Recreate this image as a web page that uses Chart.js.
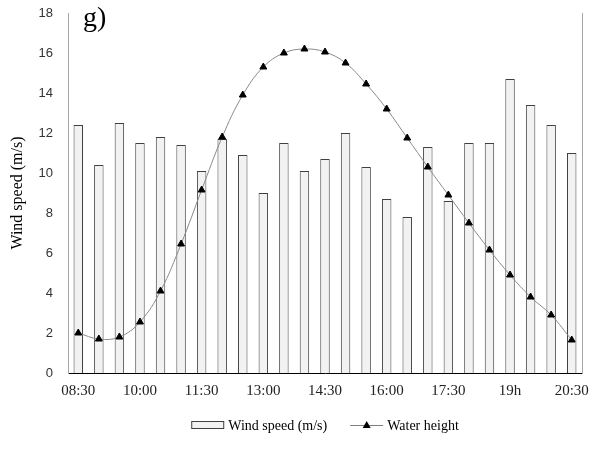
<!DOCTYPE html>
<html>
<head>
<meta charset="utf-8">
<style>
  html, body { margin: 0; padding: 0; background: #fff; }
  #wrap { width: 596px; height: 450px; }
</style>
<script src="https://cdn.jsdelivr.net/npm/chart.js@4"></script>
</head>
<body>
<div id="wrap"><canvas id="chart" width="596" height="450"></canvas></div>
<script>
// half-hour time steps, 08:30 -> 20:30
const timeLabels = [
    "08:30", "09:00", "09:30", "10:00", "10:30", "11:00", "11:30", "12:00", "12:30",
    "13:00", "13:30", "14:00", "14:30", "15:00", "15:30", "16:00", "16:30", "17:00",
    "17:30", "18:00", "18:30", "19h", "19:30", "20:00", "20:30",
];

const windSpeed = [
    12.4, 10.4, 12.5, 11.5, 11.8, 11.4, 10.1, 11.7, 10.9, 9.0, 11.5, 10.1, 10.7,
    12.0, 10.3, 8.7, 7.8, 11.3, 8.6, 11.5, 11.5, 14.7, 13.4, 12.4, 11.0,
];

const waterHeight = [
    2.0, 1.7, 1.8, 2.55, 4.1, 6.45, 9.15, 11.8, 13.9, 15.3, 16.0, 16.2, 16.05,
    15.5, 14.45, 13.2, 11.75, 10.3, 8.9, 7.5, 6.15, 4.9, 3.8, 2.9, 1.65,
];

const yTicks = [0, 2, 4, 6, 8, 10, 12, 14, 16, 18];

const serif = "'Liberation Serif', 'Times New Roman', serif";
const sans = "'Liberation Sans', Arial, sans-serif";

// panel letter + bottom legend, drawn on the canvas
const extras = {
    id: "extras",
    afterDraw(chart) {
        const ctx = chart.ctx;
        const area = chart.chartArea;
        ctx.save();

        ctx.fillStyle = "#000";
        ctx.font = "28px " + serif;
        ctx.textBaseline = "alphabetic";
        ctx.textAlign = "left";
        ctx.fillText("g)", area.left + 15, 26);

        ctx.font = "14px " + serif;
        ctx.textBaseline = "middle";
        const label1 = "Wind speed (m/s)";
        const label2 = "Water height";
        const w1 = ctx.measureText(label1).width;
        const w2 = ctx.measureText(label2).width;
        const sym = 33, gap = 4, between = 23;
        const total = sym + gap + w1 + between + sym + gap + w2;
        let x = (area.left + area.right) / 2 - total / 2;
        const y = 425;

        ctx.fillStyle = "#f2f2f2";
        ctx.strokeStyle = "#404040";
        ctx.lineWidth = 1;
        ctx.fillRect(x, y - 3.5, sym, 7);
        ctx.strokeRect(x + 0.5, y - 3.5, sym - 1, 7);
        x += sym + gap;
        ctx.fillStyle = "#000";
        ctx.fillText(label1, x, y + 1);
        x += w1 + between;

        ctx.strokeStyle = "#808080";
        ctx.beginPath();
        ctx.moveTo(x, y + 0.5);
        ctx.lineTo(x + sym, y + 0.5);
        ctx.stroke();
        const cx = x + sym / 2;
        ctx.fillStyle = "#000";
        ctx.beginPath();
        ctx.moveTo(cx, y - 4);
        ctx.lineTo(cx + 4, y + 3);
        ctx.lineTo(cx - 4, y + 3);
        ctx.closePath();
        ctx.fill();
        x += sym + gap;
        ctx.fillText(label2, x, y + 1);

        ctx.restore();
    },
};

const noPad = (s) => {
    s.paddingTop = 0;
    s.paddingBottom = 0;
    s.paddingLeft = 0;
    s.paddingRight = 0;
};

const ctx = document.getElementById("chart").getContext("2d");

new Chart(ctx, {
    data: {
        labels: timeLabels,
        datasets: [
            {
                type: "line",
                label: "Water height",
                data: waterHeight,
                borderColor: "#8a8a8a",
                borderWidth: 1,
                tension: 0.4,
                pointStyle: "triangle",
                pointRadius: 4,
                pointBackgroundColor: "#000",
                pointBorderColor: "#000",
                pointBorderWidth: 1,
                order: 0,
            },
            {
                type: "bar",
                label: "Wind speed (m/s)",
                data: windSpeed,
                backgroundColor: "#f2f2f2",
                borderColor: "#404040",
                borderWidth: 1,
                barPercentage: 0.46,
                categoryPercentage: 1,
                order: 1,
            },
        ],
    },
    options: {
        responsive: false,
        animation: false,
        layout: { padding: { left: 0, right: 14, top: 13, bottom: 0 } },
        plugins: {
            legend: { display: false },
            tooltip: { enabled: false },
        },
        scales: {
            x: {
                offset: true,
                grid: { display: false, drawTicks: false },
                border: { display: true, color: "#000", width: 1 },
                ticks: {
                    autoSkip: false,
                    maxRotation: 0,
                    padding: 9,
                    color: "#222",
                    font: { family: serif, size: 15 },
                    callback: (v, i) => (i % 3 === 0 ? timeLabels[i] : ""),
                },
                afterFit: (s) => { s.height = 77; noPad(s); },
            },
            y: {
                min: 0,
                max: 18,
                afterBuildTicks: (s) => { s.ticks = yTicks.map((v) => ({ value: v })); },
                grid: { display: false, drawTicks: false },
                border: { display: true, color: "#a6a6a6", width: 1 },
                ticks: {
                    padding: 15,
                    color: "#333",
                    font: { family: sans, size: 13 },
                },
                title: {
                    display: true,
                    text: "Wind speed (m/s)",
                    color: "#000",
                    font: { family: serif, size: 16 },
                    padding: { top: 8, bottom: 0 },
                },
                afterFit: (s) => { s.width = 68; noPad(s); },
            },
            yRight: {
                position: "right",
                min: 0,
                max: 18,
                grid: { display: false, drawTicks: false },
                border: { display: true, color: "#a6a6a6", width: 1 },
                ticks: { display: false },
                afterFit: (s) => { s.width = 0; noPad(s); },
            },
        },
    },
    plugins: [extras],
});
</script>
</body>
</html>
